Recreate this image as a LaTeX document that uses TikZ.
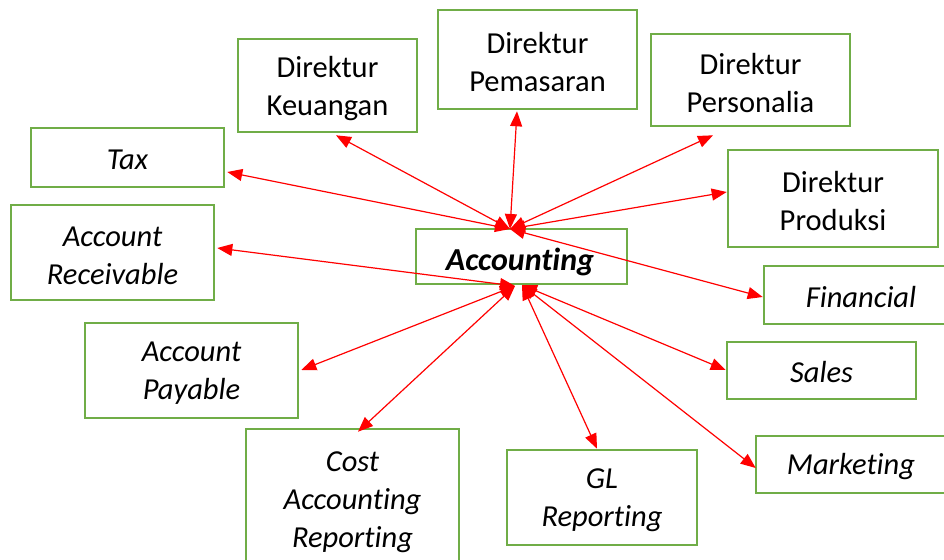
\documentclass[tikz,border=0pt]{standalone}
\usepackage{fontspec}
\setmainfont[Ligatures=NoCommon]{Carlito}
\usetikzlibrary{arrows.meta,calc}
\definecolor{boxgreen}{HTML}{70AD47}
\begin{document}
\begin{tikzpicture}[x=1pt,y=-1pt,
  box/.style={draw=boxgreen,line width=2.6pt,inner sep=0pt},
  txt/.style={align=center,inner sep=0pt,font=\fontsize{30.5}{38}\selectfont},
  itxt/.style={txt,font=\fontsize{30.5}{38}\selectfont\itshape},
  link/.style={draw=red,line width=1.2pt,
    {Triangle[length=15pt,width=12pt]}-{Triangle[length=15pt,width=12pt]}}]
\useasboundingbox (0,0) rectangle (944,559);
\clip (0,0) rectangle (944,559);
\fill[white] (0,0) rectangle (944,559);
% boxes
\node[box,minimum width=179,minimum height=93] (keu) at (327.5,85.5) {};
\node[box,minimum width=199,minimum height=99] (pem) at (537.5,59.5) {};
\node[box,minimum width=199,minimum height=92] (per) at (750.5,80) {};
\node[box,minimum width=210,minimum height=97] (pro) at (833,198.5) {};
\node[box,minimum width=193,minimum height=59] (tax) at (127.5,157.5) {};
\node[box,minimum width=203,minimum height=95] (rec) at (112.5,252.5) {};
\node[box,minimum width=211,minimum height=55] (acc) at (521.5,256.5) {};
\node[box,minimum width=182,minimum height=58] (fin) at (855,295) {};
\node[box,minimum width=189,minimum height=57] (sal) at (821.5,370.5) {};
\node[box,minimum width=190,minimum height=57] (mar) at (851,464.5) {};
\node[box,minimum width=190,minimum height=95] (gl) at (602,497.5) {};
\node[box,minimum width=213,minimum height=146] (cost) at (352.5,502) {};
\node[box,minimum width=213,minimum height=95] (pay) at (191.5,370.5) {};
% texts
\node[txt] (keut) at ($(keu)+(0,3)$) {Direktur\\Keuangan};
\node[txt] (pemt) at ($(pem)+(0,3)$) {Direktur\\Pemasaran};
\node[txt] (pert) at ($(per)+(0,3)$) {Direktur\\Personalia};
\node[txt] (prot) at ($(pro)+(0,3)$) {Direktur\\Produksi};
\node[itxt] (taxt) at ($(tax)+(0,2)$) {Tax};
\node[itxt] (rect) at ($(rec)+(0,3)$) {Account\\Receivable};
\node[txt,font=\fontsize{32}{38}\selectfont\bfseries\itshape] (acct) at (520,262) {Accounting};
\node[itxt] (fint) at ($(fin)+(6,2)$) {Financial};
\node[itxt] (salt) at ($(sal)+(0,2)$) {Sales};
\node[itxt] (mart) at ($(mar)+(0,2)$) {Marketing};
\node[itxt] (glt) at ($(gl)+(0,3)$) {GL\\Reporting};
\node[itxt] (costt) at ($(cost)+(0,0)$) {Cost\\Accounting\\Reporting};
\node[itxt] (payt) at ($(pay)+(0,3)$) {Account\\Payable};
% hubs
\coordinate (hubT) at (510,229);
\coordinate (hubBL) at (515,286);
\coordinate (hubBR) at (522,285);
% connectors
\draw[link] (hubT) -- ($(tax.east)+(2,14.5)$);
\draw[link] (hubT) -- ($(keu.south)+(8.5,2)$);
\draw[link] (hubT) -- ($(pem.south)+(-20.5,1)$);
\draw[link] (hubT) -- ($(per.south)+(-37.5,8)$);
\draw[link] (hubT) -- ($(pro.west)+(0,-6.5)$);
\draw[link] (hubT) -- ($(fin.west)+(0,2)$);
\draw[link] (hubBL) -- ($(rec.east)+(2,-4.5)$);
\draw[link] (hubBL) -- ($(pay.east)+(2,-0.5)$);
\draw[link] (hubBL) -- ($(cost.north)+(5.5,4)$);
\draw[link] (hubBR) -- ($(gl.north)+(-5,0)$);
\draw[link] (hubBR) -- ($(sal.west)+(0,-0.5)$);
\draw[link] (hubBR) -- ($(mar.west)+(1,3.5)$);
\end{tikzpicture}
\end{document}
